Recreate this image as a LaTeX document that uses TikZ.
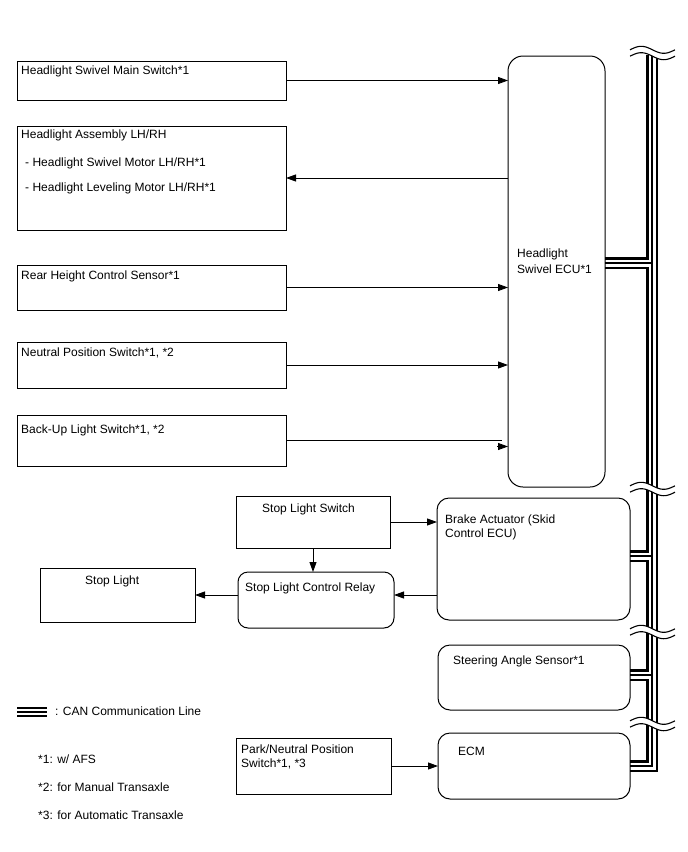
\documentclass[tikz,border=0pt]{standalone}
\usepackage{fontspec}
\setmainfont{Liberation Sans}
\usetikzlibrary{arrows.meta,calc,backgrounds}
\begin{document}
\begin{tikzpicture}[x=1pt,y=-1pt,
  box/.style={draw,line width=1pt,anchor=north west,inner sep=0pt,outer sep=0pt},
  rbox/.style={box,rounded corners=12pt},
  txt/.style={anchor=base west,inner sep=0pt,font=\fontsize{12}{14}\selectfont},
  arr/.style={line width=0.9pt,-{Triangle[length=10pt,width=7pt]}},
  wavestyle/.style={line width=1.1pt}]
\useasboundingbox (0,0) rectangle (688,852);

% boxes
\node[box,minimum width=269pt,minimum height=39pt] (b1) at (17,61) {};
\node[box,minimum width=269pt,minimum height=104pt] (b2) at (17,126) {};
\node[box,minimum width=269pt,minimum height=45pt] (b3) at (17,265) {};
\node[box,minimum width=269pt,minimum height=46pt] (b4) at (17,342) {};
\node[box,minimum width=269pt,minimum height=51pt] (b5) at (17,415) {};
\node[rbox,rounded corners=15pt,minimum width=97pt,minimum height=431pt] (ecu) at (508,56) {};
\node[box,minimum width=154pt,minimum height=52pt] (sls) at (236,496) {};
\node[rbox,minimum width=193pt,minimum height=122pt] (brake) at (437,498) {};
\node[rbox,rounded corners=10pt,minimum width=156pt,minimum height=56pt] (relay) at (238,572) {};
\node[box,minimum width=155pt,minimum height=54pt] (sl) at (40,568) {};
\node[rbox,minimum width=192pt,minimum height=65pt] (steer) at (438,645) {};
\node[box,minimum width=155pt,minimum height=56pt] (pn) at (236,738) {};
\node[rbox,minimum width=192pt,minimum height=66pt] (ecm) at (438,733) {};

% texts
\node[txt] (t1) at (21,74) {Headlight Swivel Main Switch*1};
\node[txt] (t2) at (21,138) {Headlight Assembly LH/RH};
\node[txt] (t3) at (25,166) {- Headlight Swivel Motor LH/RH*1};
\node[txt] (t4) at (25,191) {- Headlight Leveling Motor LH/RH*1};
\node[txt] (t5) at (21,279) {Rear Height Control Sensor*1};
\node[txt] (t6) at (21,356) {Neutral Position Switch*1, *2};
\node[txt] (t7) at (21,433) {Back-Up Light Switch*1, *2};
\node[txt] (t8) at (517,257) {Headlight};
\node[txt] (t9) at (517,273) {Swivel ECU*1};
\node[txt] (t10) at (262,512) {Stop Light Switch};
\node[txt] (t11) at (445,523) {Brake Actuator (Skid};
\node[txt] (t12) at (445,537) {Control ECU)};
\node[txt] (t13) at (245,591) {Stop Light Control Relay};
\node[txt] (t14) at (85,584) {Stop Light};
\node[txt] (t15) at (453,664) {Steering Angle Sensor*1};
\node[txt] (t16) at (241,753) {Park/Neutral Position};
\node[txt] (t17) at (241,767) {Switch*1, *3};
\node[txt] (t18) at (458,755) {ECM};
\node[txt] (t19) at (55,715) {: CAN Communication Line};
\node[txt] (t20) at (38,763) {*1: w/ AFS};
\node[txt] (t21) at (38,791) {*2: for Manual Transaxle};
\node[txt] (t22) at (38,819) {*3: for Automatic Transaxle};

% arrows
\draw[arr] (b1.east) -- (b1.east -| ecu.west);
\draw[arr] (ecu.west |- b2.east) -- (b2.east);
\draw[arr] (b3.east) -- (b3.east -| ecu.west);
\draw[arr] (b4.east) -- (b4.east -| ecu.west);
\coordinate (b5end) at ($(b5.east -| ecu.west)+(-6,0)$);
\draw[line width=0.9pt] (b5.east) -- (b5end);
\draw[arr] ($(b5.east -| ecu.west)+(-11,6)$) -- ($(b5.east -| ecu.west)+(0,6)$);
\draw[arr] (sls.east) -- (sls.east -| brake.west);
\draw[arr] (sls.south) -- (sls.south |- relay.north);
\draw[arr] (brake.west |- 0,595) -- (relay.east |- 0,595);
\draw[arr] (relay.west |- sl.east) -- (sl.east);
\draw[arr] (pn.east) -- (pn.east -| ecm.west);

% CAN bus
\coordinate (bt) at (652,55);
\coordinate (bb) at (652,766);
\begin{scope}[on background layer]
\fill[white] (0,0) rectangle (688,852);
\foreach \w/\c in {12.5pt/black,7pt/white,1.3pt/black}{
  \draw[line width=\w,color=\c] (bt) -- (bb) -- (bb -| ecm.east)
    (ecu.east |- 0,263) -- (bt |- 0,263)
    (brake.east |- 0,556) -- (bt |- 0,556)
    (steer.east |- 0,675) -- (bt |- 0,675);
}
\end{scope}
% wave breaks
\foreach \c in {53,489,632,724}{
  \fill[white] plot[domain=0:1,samples=40,smooth] ({630+45*\x},{\c-3.2-3.5*sin(360*\x)})
     -- plot[domain=1:0,samples=40,smooth] ({630+45*\x},{\c+3.2-3.5*sin(360*\x)}) -- cycle;
  \draw[wavestyle] plot[domain=0:1,samples=40,smooth] ({630+45*\x},{\c-3.2-3.5*sin(360*\x)});
  \draw[wavestyle] plot[domain=0:1,samples=40,smooth] ({630+45*\x},{\c+3.2-3.5*sin(360*\x)});
}

% legend
\coordinate (la) at (17,712);
\coordinate (lb) at (47,712);
\foreach \w/\c in {10.5pt/black,5.5pt/white,1.5pt/black}{
  \draw[line width=\w,color=\c] (la) -- (lb);
}
\end{tikzpicture}
\end{document}
